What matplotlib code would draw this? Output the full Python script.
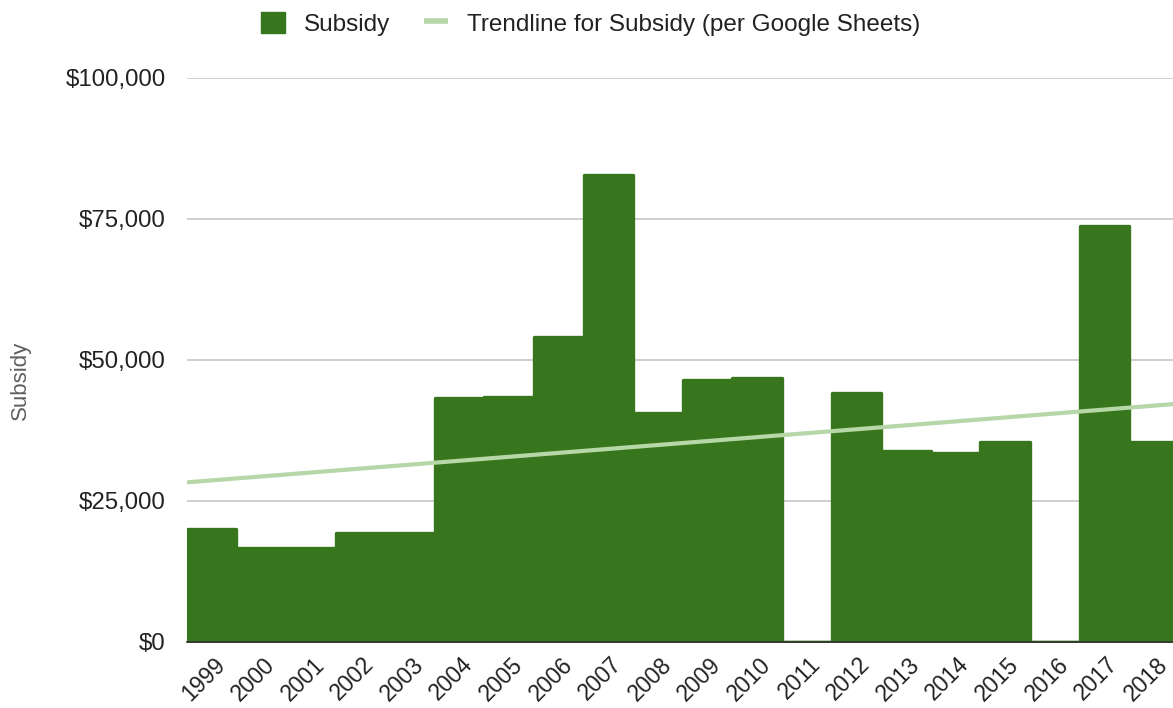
import numpy as np
import matplotlib
matplotlib.use("Agg")
import matplotlib.pyplot as plt
from matplotlib.patches import Patch
from matplotlib.lines import Line2D
from matplotlib.ticker import FuncFormatter
from matplotlib.transforms import ScaledTranslation

# Annual subsidy amounts (USD)
years = ["1999", "2000", "2001", "2002", "2003", "2004", "2005", "2006", "2007", "2008",
         "2009", "2010", "2011", "2012", "2013", "2014", "2015", "2016", "2017", "2018"]
subsidy = [20000, 16700, 16700, 19200, 19200, 43200, 43300, 54000, 82700, 40500,
           46400, 46700, 0, 44100, 33900, 33400, 35400, 0, 73700, 35400]

y_ticks = [0, 25000, 50000, 75000, 100000]

AREA = "#38761d"
TREND = "#b6d7a8"
TEXT = "#222222"

plt.rcParams["font.family"] = ["Liberation Sans", "DejaVu Sans"]

fig = plt.figure(figsize=(11.73, 7.08), dpi=100)
# plot area runs off the right edge of the canvas
ax = fig.add_axes([186.7 / 1173, 66.3 / 708, 992.0 / 1173, 564.0 / 708])

x = np.arange(len(years))
vals = np.array(subsidy, dtype=float)

# stepped area: each year occupies a full band
edges = np.append(x - 0.5, x[-1] + 0.5)
step_y = np.append(vals, vals[-1])
ax.fill_between(edges, step_y, 0, step="post", facecolor=AREA, edgecolor=AREA,
                linewidth=2.4, joinstyle="round", zorder=2)

# linear trendline fitted over the yearly values
slope, intercept = np.polyfit(x, vals, 1)
tx = np.array([-0.5, x[-1] + 0.5])
ax.plot(tx, slope * tx + intercept, color=TREND, linewidth=3.0, solid_capstyle="butt", zorder=3)

ax.set_xlim(-0.5, x[-1] + 0.5)
ax.set_ylim(0, 100000)
ax.set_yticks(y_ticks)
ax.yaxis.set_major_formatter(FuncFormatter(lambda v, p: f"${v:,.0f}"))
ax.set_xticks(x)
ax.set_xticklabels(years, rotation=45, ha="right", rotation_mode="anchor")

ax.grid(axis="y", color="#cccccc", linewidth=1.3, zorder=0)
ax.set_axisbelow(True)
for s in ["top", "right", "left"]:
    ax.spines[s].set_visible(False)
ax.spines["bottom"].set_color("#333333")
ax.spines["bottom"].set_linewidth(1.2)
ax.spines["bottom"].set_zorder(5)

ax.tick_params(axis="y", length=0, pad=15, labelsize=17.3, labelcolor=TEXT)
ax.tick_params(axis="x", length=0, pad=8, labelsize=16.5, labelcolor=TEXT)
for lbl in ax.get_xticklabels():
    lbl.set_transform(lbl.get_transform() + ScaledTranslation(2 / 100, 0, fig.dpi_scale_trans))

fig.text(20 / 1173, 1 - 380 / 708, "Subsidy", rotation=90, ha="center", va="center",
         fontsize=16, color="#5f5f5f")

handles = [Patch(facecolor=AREA, edgecolor=AREA, label="Subsidy"),
           Line2D([0], [0], color=TREND, linewidth=4, solid_capstyle="butt",
                  label="Trendline for Subsidy (per Google Sheets)")]
fig.legend(handles=handles, loc="center", bbox_to_anchor=(590.5 / 1173, 1 - 23.7 / 708),
           ncol=2, frameon=False, fontsize=17.5, handlelength=1.0, handleheight=1.0,
           handletextpad=0.78, columnspacing=1.36, labelcolor=TEXT)

fig.savefig("out.png", dpi=100)
